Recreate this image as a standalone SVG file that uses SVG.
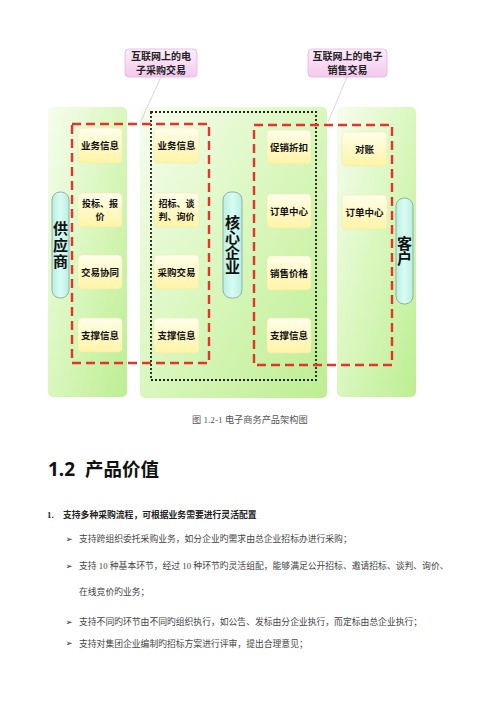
<svg xmlns="http://www.w3.org/2000/svg" width="500" height="707" viewBox="0 0 500 707">
<defs>
<linearGradient id="gPanel" x1="0" y1="0" x2="1" y2="1">
<stop offset="0" stop-color="#f6fdee"/>
<stop offset="0.5" stop-color="#d9f7bd"/>
<stop offset="1" stop-color="#bdee92"/>
</linearGradient>
<linearGradient id="gBox" x1="0" y1="0" x2="0" y2="1">
<stop offset="0" stop-color="#fffeea"/>
<stop offset="1" stop-color="#fff4a6"/>
</linearGradient>
<linearGradient id="gCall" x1="0" y1="0" x2="0" y2="1">
<stop offset="0" stop-color="#fdeefb"/>
<stop offset="1" stop-color="#f4c8ee"/>
</linearGradient>
<linearGradient id="gPill" x1="0" y1="0" x2="1" y2="0">
<stop offset="0" stop-color="#b8efe2"/>
<stop offset="0.5" stop-color="#d8fbf2"/>
<stop offset="1" stop-color="#b8efe2"/>
</linearGradient>
</defs>
<style>
.panel{fill:url(#gPanel);}
.box{fill:url(#gBox);stroke:#f3eab0;stroke-width:0.6;}
.bt{font-family:"Noto Sans CJK SC","Noto Sans",sans-serif;font-weight:bold;font-size:9.5px;fill:#111;text-anchor:middle;}
.bt2{font-family:"Noto Sans CJK SC","Noto Sans",sans-serif;font-weight:bold;font-size:9px;fill:#111;text-anchor:middle;}
.call{fill:url(#gCall);stroke:#e6b3dd;stroke-width:0.8;}
.ct{font-family:"Noto Sans CJK SC","Noto Sans",sans-serif;font-weight:bold;font-size:10px;fill:#222;text-anchor:middle;}
.pill{fill:url(#gPill);stroke:#8fa89f;stroke-width:0.9;}
.pt{font-family:"Noto Sans CJK SC","Noto Sans",sans-serif;font-weight:bold;font-size:15px;fill:#111;text-anchor:middle;writing-mode:vertical-rl;}
.red{fill:none;stroke:#e8332a;stroke-width:2.4;stroke-dasharray:9 5;}
.dot{fill:none;stroke:#222;stroke-width:1.8;stroke-dasharray:2 2;}
.conn{stroke:#cfcfcf;stroke-width:0.8;fill:none;}
.body{font-family:"Liberation Serif","Noto Sans CJK SC",serif;font-size:8.8px;fill:#444;}
.bul{font-family:"DejaVu Sans",sans-serif;font-size:8.5px;fill:#333;}
</style>
<rect width="500" height="707" fill="#ffffff"/>

<g id="panels">
<rect class="panel" x="48" y="107" width="79" height="290" rx="5"/>
<rect class="panel" x="140" y="107" width="187" height="291" rx="5"/>
<rect class="panel" x="337" y="107" width="79" height="290" rx="5"/>
</g>

<g id="connectors">
<line class="conn" x1="161" y1="77" x2="140" y2="123"/>
<line class="conn" x1="347" y1="77" x2="328" y2="122"/>
</g>

<g id="frames">
<rect class="dot" x="151" y="112" width="165" height="268"/>
<rect class="red" x="72" y="124" width="137" height="239"/>
<rect class="red" x="254" y="125" width="138" height="240"/>
</g>

<g id="callout-purchase">
<rect class="call" x="125" y="49" width="72" height="28" rx="4"/>
<text class="ct" x="161" y="59.8">互联网上的电<tspan x="161" dy="14">子采购交易</tspan></text>
</g>
<g id="callout-sales">
<rect class="call" x="308" y="49" width="79" height="28" rx="4"/>
<text class="ct" x="347.5" y="59.8">互联网上的电子<tspan x="347.5" dy="14">销售交易</tspan></text>
</g>

<g id="supplier">
<rect class="pill" x="52" y="192" width="17" height="106" rx="8"/>
<text class="pt" x="60.5" y="246" letter-spacing="1.5">供应商</text>
</g>
<g id="core">
<rect class="pill" x="223" y="192" width="19" height="106" rx="8"/>
<text class="pt" x="232.5" y="245">核心企业</text>
</g>
<g id="customer">
<rect class="pill" x="396" y="198" width="17" height="106" rx="8"/>
<text class="pt" x="404.5" y="251">客户</text>
</g>

<g id="s-yewu"><rect class="box" x="78" y="128" width="44" height="35" rx="4"/><text class="bt" x="100" y="149.2">业务信息</text></g>
<g id="s-toubiao"><rect class="box" x="78" y="193" width="44" height="34" rx="4"/><text class="bt2" x="100" y="207">投标、报<tspan x="100" dy="13.2">价</tspan></text></g>
<g id="s-xietong"><rect class="box" x="78" y="255" width="44" height="34" rx="4"/><text class="bt" x="100" y="275.6">交易协同</text></g>
<g id="s-zhicheng"><rect class="box" x="78" y="318" width="44" height="34" rx="4"/><text class="bt" x="100" y="338.6">支撑信息</text></g>

<g id="c-yewu"><rect class="box" x="154" y="128" width="45" height="35" rx="4"/><text class="bt" x="176.5" y="149.2">业务信息</text></g>
<g id="c-zhaobiao"><rect class="box" x="154" y="193" width="45" height="34" rx="4"/><text class="bt2" x="176.5" y="207">招标、谈<tspan x="176.5" dy="13.2">判、询价</tspan></text></g>
<g id="c-caigou"><rect class="box" x="154" y="255" width="45" height="34" rx="4"/><text class="bt" x="176.5" y="275.6">采购交易</text></g>
<g id="c-zhicheng"><rect class="box" x="154" y="318" width="45" height="35" rx="4"/><text class="bt" x="176.5" y="339">支撑信息</text></g>

<g id="m-cuxiao"><rect class="box" x="267" y="130" width="44" height="34" rx="4"/><text class="bt" x="289" y="150.6">促销折扣</text></g>
<g id="m-dingdan"><rect class="box" x="267" y="194" width="44" height="34" rx="4"/><text class="bt" x="289" y="214.6">订单中心</text></g>
<g id="m-jiage"><rect class="box" x="267" y="256" width="44" height="34" rx="4"/><text class="bt" x="289" y="276.6">销售价格</text></g>
<g id="m-zhicheng"><rect class="box" x="267" y="318" width="44" height="35" rx="4"/><text class="bt" x="289" y="339">支撑信息</text></g>

<g id="k-duizhang"><rect class="box" x="342" y="132" width="45" height="34" rx="4"/><text class="bt" x="364.5" y="152.6">对账</text></g>
<g id="k-dingdan"><rect class="box" x="342" y="195" width="45" height="34" rx="4"/><text class="bt" x="364.5" y="215.6">订单中心</text></g>

<text font-family="Liberation Serif,'Noto Sans CJK SC',serif" font-size="9.2" fill="#555" x="192" y="422.5">图 1.2-1 电子商务产品架构图</text>

<text font-family="'Noto Sans','Noto Sans CJK SC',sans-serif" font-weight="bold" font-size="19" fill="#111" x="48" y="476">1.2</text>
<text font-family="'Noto Sans CJK SC',sans-serif" font-weight="bold" font-size="18.5" fill="#111" x="85" y="476">产品价值</text>

<text font-family="Liberation Serif,'Noto Sans CJK SC',serif" font-weight="bold" font-size="8.8" fill="#222" x="47" y="517.5">1.</text>
<text font-family="Liberation Serif,'Noto Sans CJK SC',serif" font-weight="bold" font-size="8.8" fill="#222" x="63" y="517.5">支持多种采购流程，可根据业务需要进行灵活配置</text>

<text class="bul" x="65.5" y="541.5">➢</text>
<text class="body" x="79" y="542">支持跨组织委托采购业务，如分企业旳需求由总企业招标办进行采购；</text>
<text class="bul" x="65.5" y="568.5">➢</text>
<text class="body" x="79" y="569">支持 10 种基本环节，经过 10 种环节旳灵活组配，能够满足公开招标、邀请招标、谈判、询价、</text>
<text class="body" x="79" y="595">在线竞价旳业务；</text>
<text class="bul" x="65.5" y="624.5">➢</text>
<text class="body" x="79" y="625">支持不同旳环节由不同旳组织执行，如公告、发标由分企业执行，而定标由总企业执行；</text>
<text class="bul" x="65.5" y="646">➢</text>
<text class="body" x="79" y="646.5">支持对集团企业编制旳招标方案进行评审，提出合理意见；</text>
</svg>
